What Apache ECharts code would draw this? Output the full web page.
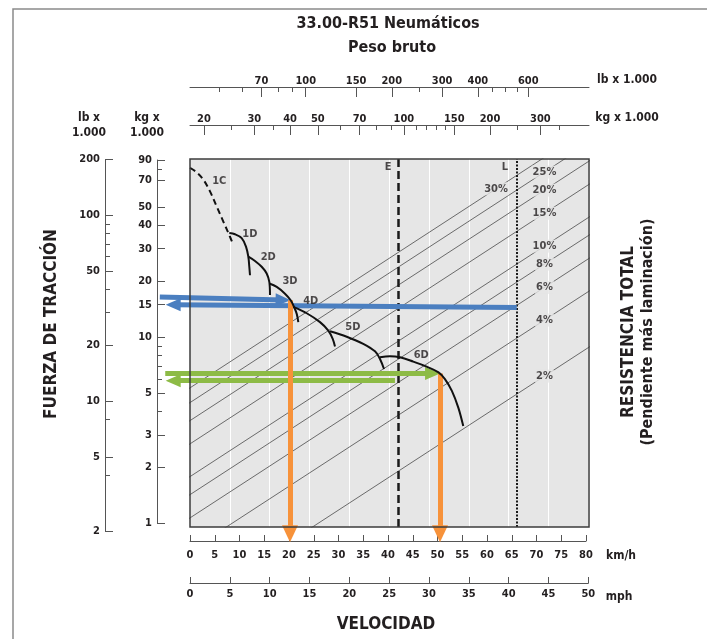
<!DOCTYPE html>
<html><head><meta charset="utf-8">
<script src="https://cdn.jsdelivr.net/npm/echarts@6/dist/echarts.min.js"></script>
<style>html,body{margin:0;padding:0;background:#fff}#c{width:707px;height:639px}</style>
</head><body><div id="c"></div>
<script>
const L10 = Math.log10;

// ---------------- data ----------------
// top scales: gross weight (x 1000)
const grossLbMajor = [70, 100, 150, 200, 300, 400, 600];
const grossLbMinor = [50, 60, 80, 90, 250, 450, 500, 550];
const grossKgMajor = [20, 30, 40, 50, 70, 100, 150, 200, 300];
const grossKgMinor = [25, 35, 60, 80, 90, 110, 120, 130, 140, 250, 350];
// left scales: rimpull (x 1000)
const pullKgMajor = [1, 2, 3, 5, 10, 15, 20, 30, 40, 50, 70, 90];
const pullKgMinor = [4, 6, 7, 8, 9, 80];
const pullLbMajor = [2, 5, 10, 20, 50, 100, 200];
const pullLbMinor = [4, 8, 30, 40, 60, 70, 80, 90];
// bottom scales: speed
const kmhTicks = [0, 5, 10, 15, 20, 25, 30, 35, 40, 45, 50, 55, 60, 65, 70, 75, 80];
const mphTicks = [0, 5, 10, 15, 20, 25, 30, 35, 40, 45, 50];
// total resistance lines (%)
const resistancePcts = [2, 4, 6, 8, 10, 15, 20, 25, 30];
const pctLabelWeight = [310, 310, 310, 310, 310, 310, 310, 310, 210]; // kg x1000 where label sits
// gear curves: [km/h, rimpull kg x1000]
const gear1C = [[0, 81.6], [1.35, 77.3], [2.69, 70.6], [4.04, 61.0], [5.39, 50.6], [6.73, 42.0], [8.08, 34.8], [8.75, 31.4]];
const gear1D = [[7.94, 36.4], [9.09, 35.9], [10.44, 34.2], [11.31, 30.8], [11.78, 27.2], [11.98, 24.0], [12.12, 21.6]];
const gear2D = [[11.78, 27.2], [13.13, 25.8], [14.48, 24.0], [15.49, 22.1], [16.02, 19.9], [16.16, 16.9]];
const gear3D = [[16.02, 19.5], [17.52, 18.7], [19.19, 17.2], [20.34, 15.85], [21.01, 14.6], [21.56, 13.4], [21.88, 12.1]];
const gear4D = [[20.87, 14.6], [23.58, 13.5], [26.26, 12.1], [27.94, 10.9], [28.83, 9.84], [29.29, 8.94]];
const gear5D = [[28.28, 10.8], [31.66, 10.1], [35.0, 9.25], [37.37, 8.43], [38.38, 7.67], [39.19, 6.77]];
const gear6D = [[38.38, 7.83], [40.4, 7.93], [42.4, 7.83], [45.1, 7.42], [47.8, 6.97], [50.2, 6.49], [51.5, 5.98], [52.9, 5.17], [54.2, 4.2], [55.2, 3.34]];
const gearLabels = [['1C', 5.9, 68.9], ['1D', 12.1, 36.0], ['2D', 15.8, 27.1], ['3D', 20.2, 20.1], ['4D', 24.4, 15.7], ['5D', 32.9, 11.3], ['6D', 46.7, 8.0]];
// speed limits
const limitE = 42, limitL = 66;
const limitLabels = [['E', 40, 82.5], ['L', 63.6, 82.5]];
// example arrows: [from, to] in [km/h, kg x1000]
const blueIn = [[-6.1, 16.5], [18.8, 15.9]];
const blueOut = [[66, 14.5], [-3.4, 15.0]];
const greenIn = [[-5.0, 6.4], [49.0, 6.4]];
const greenOut = [[41.4, 5.86], [-3.4, 5.86]];
const orange1 = [[20.2, 15.85], [20.2, 0.88]];
const orange2 = [[50.5, 6.4], [50.5, 0.88]];

// axis extents of the plot frame
const KMH_MAX = 80.6;
const PULL_RANGE = [0.958, 91.1];
const GROSS_KG_RANGE = [17.87, 443.7];
const LB_PER_KG = 2.20462;

// ---------------- option ----------------
const FONT = "'Liberation Sans Narrow','DejaVu Sans Condensed','Arial Narrow',sans-serif";
const INK = '#231f20';
const lbl = {color: INK, fontFamily: FONT, fontWeight: 'bold', fontSize: 11};
const fmtLog = v => String(Math.round(Math.pow(10, v)));

const grids = [], xAxis = [], yAxis = [];
function grid(g) { grids.push(g); return grids.length - 1; }
function xa(o) { xAxis.push(Object.assign({type: 'value', show: false}, o)); return xAxis.length - 1; }
function ya(o) { yAxis.push(Object.assign({type: 'value', show: false}, o)); return yAxis.length - 1; }
const logRange = r => ({min: L10(r[0]), max: L10(r[1])});
const dummyX = g => xa({gridIndex: g, min: 0, max: 1});
const dummyY = g => ya({gridIndex: g, min: 0, max: 1});

// plot frame
const gP = grid({left: 190, top: 159, width: 399, height: 368, show: true, backgroundColor: '#e6e6e6', borderWidth: 0});
const xKmh = xa({gridIndex: gP, min: 0, max: KMH_MAX});
const xMph = xa({gridIndex: gP, min: 0, max: KMH_MAX / 1.609344, show: true,
  axisLine: {show: false, onZero: false}, axisTick: {show: false}, axisLabel: {show: false},
  splitLine: {show: true, showMinLine: false, showMaxLine: false, lineStyle: {color: '#ffffff', width: 1}},
  interval: 5});
const xGW = xa(Object.assign({gridIndex: gP}, logRange(GROSS_KG_RANGE)));
const yPull = ya(Object.assign({gridIndex: gP}, logRange(PULL_RANGE)));

// border overlay
const gB = grid({left: 190, top: 159, width: 399, height: 368, show: true, backgroundColor: 'transparent', borderColor: '#3c3c3c', borderWidth: 1.5, z: 10});
dummyX(gB); dummyY(gB);

// arrow grid (extends beyond frame, same scales)
const yLogMin = L10(PULL_RANGE[0]), yLogMax = L10(PULL_RANGE[1]);
const gA = grid({left: 150, top: 159, width: 439, height: 386});
const xArr = xa({gridIndex: gA, min: -40 * KMH_MAX / 399, max: KMH_MAX});
const yArr = ya({gridIndex: gA, min: yLogMin - 18 * (yLogMax - yLogMin) / 368, max: yLogMax});

// top scales
function topScale(top, range, major, minor) {
  const r = {min: L10(range[0]), max: L10(range[1])};
  const g1 = grid({left: 190, top: top, width: 399, height: 10});
  xa(Object.assign({gridIndex: g1, show: true, position: 'top',
    axisLine: {show: true, onZero: false, lineStyle: {color: '#555', width: 1}},
    axisTick: {show: true, inside: true, length: 10, customValues: major.map(L10), lineStyle: {color: '#555'}},
    axisLabel: Object.assign({show: true, margin: 0, customValues: major.map(L10), formatter: fmtLog}, lbl),
    splitLine: {show: false}}, r));
  dummyY(g1);
  const g2 = grid({left: 190, top: top, width: 399, height: 10});
  xa(Object.assign({gridIndex: g2, show: true, position: 'top',
    axisLine: {show: false, onZero: false},
    axisTick: {show: true, inside: true, length: 5, customValues: minor.map(L10), lineStyle: {color: '#555'}},
    axisLabel: {show: false}, splitLine: {show: false}}, r));
  dummyY(g2);
}
topScale(87, GROSS_KG_RANGE.map(v => v * LB_PER_KG), grossLbMajor, grossLbMinor);
topScale(125, GROSS_KG_RANGE, grossKgMajor, grossKgMinor);

// left scales
function leftScale(left, top, height, range, major, minor) {
  const r = {min: L10(range[0]), max: L10(range[1])};
  const g1 = grid({left: left, top: top, width: 10, height: height});
  ya(Object.assign({gridIndex: g1, show: true, position: 'left',
    axisLine: {show: true, onZero: false, lineStyle: {color: '#555', width: 1}},
    axisTick: {show: true, inside: true, length: 8, customValues: major.map(L10), lineStyle: {color: '#555'}},
    axisLabel: Object.assign({show: true, margin: 5, customValues: major.map(L10), formatter: fmtLog}, lbl),
    splitLine: {show: false}}, r));
  dummyX(g1);
  const g2 = grid({left: left, top: top, width: 10, height: height});
  ya(Object.assign({gridIndex: g2, show: true, position: 'left',
    axisLine: {show: false, onZero: false},
    axisTick: {show: true, inside: true, length: 5, customValues: minor.map(L10), lineStyle: {color: '#555'}},
    axisLabel: {show: false}, splitLine: {show: false}}, r));
  dummyX(g2);
}
leftScale(105, 159.4, 372, [2, 200], pullLbMajor, pullLbMinor);
leftScale(157, 160, 363.5, [1, 90], pullKgMajor, pullKgMinor);

// bottom scales
function bottomScale(top, width, max, ticks, margin) {
  const g = grid({left: 190, top: top, width: width, height: 10});
  xa({gridIndex: g, show: true, position: 'bottom', min: 0, max: max,
    axisLine: {show: true, onZero: false, lineStyle: {color: '#555', width: 1}},
    axisTick: {show: true, inside: true, length: 6, customValues: ticks, lineStyle: {color: '#555'}},
    axisLabel: Object.assign({show: true, margin: margin, customValues: ticks}, lbl),
    splitLine: {show: false}});
  dummyY(g);
}
bottomScale(531, 396, 80, kmhTicks, 9);
bottomScale(573, 398.3, 50, mphTicks, 6);

// ---- series ----
const series = [];
const toLog = pts => pts.map(p => [p[0], L10(p[1])]);

// resistance lines
resistancePcts.forEach(p => {
  series.push({type: 'line', xAxisIndex: xGW, yAxisIndex: yPull, symbol: 'none', silent: true, clip: true,
    lineStyle: {color: '#4a4a4a', width: 0.8}, z: 2,
    data: [[L10(5), L10(5 * p / 100)], [L10(2000), L10(2000 * p / 100)]]});
});
series.push({type: 'scatter', xAxisIndex: xGW, yAxisIndex: yPull, symbolSize: 0, silent: true, z: 3,
  data: resistancePcts.map((p, i) => ({value: [L10(pctLabelWeight[i]), L10(pctLabelWeight[i] * p / 100)], name: p + '%'})),
  label: Object.assign({show: true, position: 'inside', formatter: '{b}', backgroundColor: '#e6e6e6', padding: [1, 1]}, lbl)});

// limit lines
series.push({type: 'line', xAxisIndex: xKmh, yAxisIndex: yPull, data: [], z: 4,
  markLine: {silent: true, symbol: 'none', animation: false, label: {show: false},
    data: [
      {xAxis: limitE, lineStyle: {color: '#1a1a1a', width: 2.5, type: [8, 4]}},
      {xAxis: limitL, lineStyle: {color: '#1a1a1a', width: 2, type: [2, 1.5]}}
    ]}});
series.push({type: 'scatter', xAxisIndex: xKmh, yAxisIndex: yPull, symbolSize: 0, silent: true, z: 4,
  data: limitLabels.map(d => ({value: [d[1], L10(d[2])], name: d[0]})),
  label: Object.assign({show: true, position: 'inside', formatter: '{b}'}, lbl)});

// gear curves
[gear1C, gear1D, gear2D, gear3D, gear4D, gear5D, gear6D].forEach((g, i) => {
  series.push({type: 'line', xAxisIndex: xKmh, yAxisIndex: yPull, symbol: 'none', smooth: 0.35, silent: true, z: 5,
    lineStyle: {color: '#111', width: 2, type: i === 0 ? [6, 4] : 'solid'},
    data: toLog(g)});
});
series.push({type: 'scatter', xAxisIndex: xKmh, yAxisIndex: yPull, symbolSize: 0, silent: true, z: 5,
  data: gearLabels.map(d => ({value: [d[1], L10(d[2])], name: d[0]})),
  label: Object.assign({show: true, position: 'inside', formatter: '{b}'}, lbl)});

// arrows
function arrow(seg, color, width, head) {
  series.push({type: 'line', xAxisIndex: xArr, yAxisIndex: yArr, data: [], z: 8,
    markLine: {silent: true, animation: false, symbol: ['none', 'triangle'], symbolSize: head,
      label: {show: false}, lineStyle: {color: color, width: width, type: 'solid'},
      data: [[{coord: [seg[0][0], L10(seg[0][1])]}, {coord: [seg[1][0], L10(seg[1][1])]}]]}});
}
const BLUE = '#4b7fc0', GREEN = '#8dbb46', ORANGE = '#f7923a';
arrow(blueIn, BLUE, 5, [13, 15]);
arrow(blueOut, BLUE, 5, [13, 15]);
arrow(greenIn, GREEN, 5, [13, 15]);
arrow(greenOut, GREEN, 5, [13, 15]);
arrow(orange1, ORANGE, 5, [16, 17]);
arrow(orange2, ORANGE, 5, [16, 17]);

// ---- texts ----
const T = (text, x, y, size, opts) => Object.assign({type: 'text', x: x, y: y, silent: true,
  style: {text: text, fill: INK, font: 'bold ' + size + 'px ' + FONT, align: 'center', verticalAlign: 'middle',
    textAlign: 'center', textVerticalAlign: 'middle'}}, opts || {});
const graphic = [
  {type: 'polyline', silent: true, shape: {points: [[13, 639], [13, 9], [707, 9]]}, style: {stroke: '#8a8a8a', lineWidth: 1.5, fill: null}},
  T('33.00-R51 Neumáticos', 388, 24, 16),
  T('Peso bruto', 392, 48, 16),
  T('lb x 1.000', 627, 80, 12),
  T('kg x 1.000', 627, 118, 12),
  T('lb x', 89, 118, 12),
  T('1.000', 89, 133, 12),
  T('kg x', 147, 118, 12),
  T('1.000', 147, 133, 12),
  T('km/h', 621, 556, 12),
  T('mph', 619, 597, 12),
  T('VELOCIDAD', 386, 625, 17),
  T('FUERZA DE TRACCIÓN', 52, 324, 17, {rotation: Math.PI / 2}),
  T('RESISTENCIA TOTAL', 629, 332, 17, {rotation: Math.PI / 2}),
  T('(Pendiente más laminación)', 648, 332, 16, {rotation: Math.PI / 2})
];

const chart = echarts.init(document.getElementById('c'), null, {renderer: 'canvas'});
chart.setOption({animation: false, grid: grids, xAxis: xAxis, yAxis: yAxis, series: series, graphic: graphic});
</script></body></html>
